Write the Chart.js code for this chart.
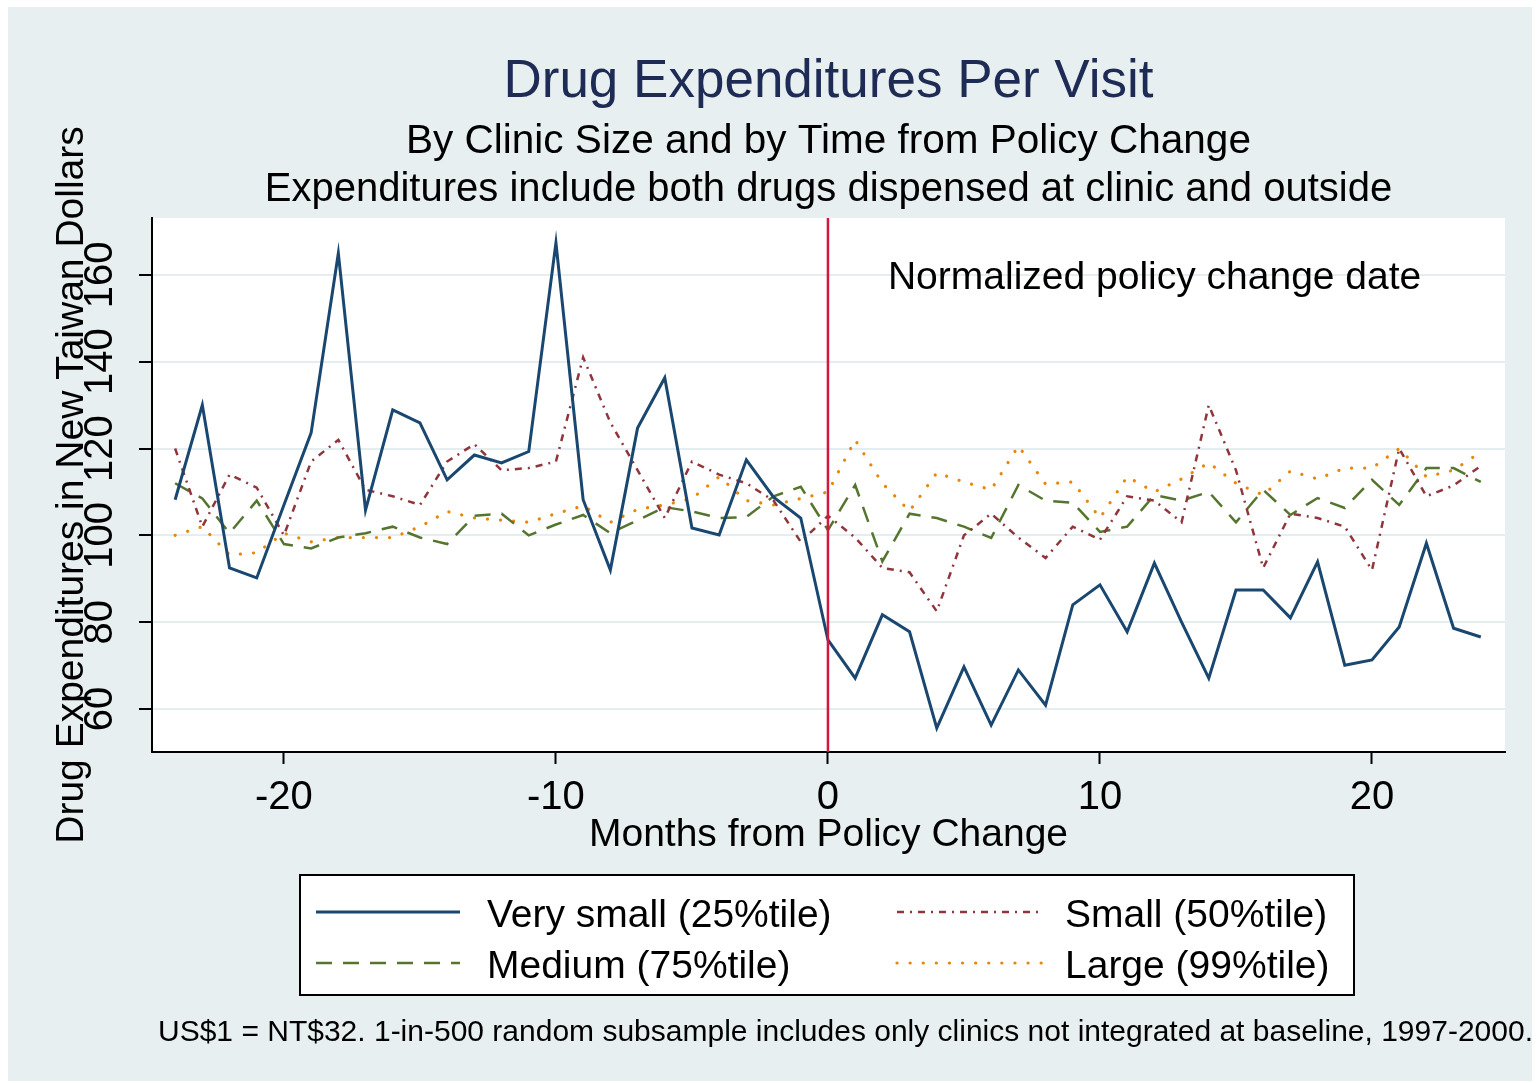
<!DOCTYPE html>
<html>
<head>
<meta charset="utf-8">
<script src="https://cdn.jsdelivr.net/npm/chart.js@4.4.1/dist/chart.umd.min.js"></script>
<style>
  body { margin: 0; background: #fff; }
  #wrap { width: 1537px; height: 1083px; }
</style>
</head>
<body>
<div id="wrap"><canvas id="myChart"></canvas></div>
<script>
// months relative to the policy change
var months = [-24,-23,-22,-21,-20,-19,-18,-17,-16,-15,-14,-13,-12,-11,-10,-9,-8,-7,-6,-5,-4,-3,-2,-1,
              0,1,2,3,4,5,6,7,8,9,10,11,12,13,14,15,16,17,18,19,20,21,22,23,24];

var verySmall = [108.2,130,92.5,90.2,107,123.6,165,105.8,128.9,125.9,112.8,118.5,116.7,119.3,167.4,108.2,92,124.7,136.3,101.7,100.1,117.4,108.8,104,
                 75.9,67.1,81.7,77.8,55.6,69.7,56.3,69,60.9,84,88.6,77.8,93.6,80,67.1,87.4,87.4,81,93.9,70.1,71.3,78.9,98.2,78.6,76.6];
var small = [120,102,114,111,100,117,122,110.5,109,107,117,121,115,115.5,117,141,126,115,104,117,114,112,108,98.5,
             104.5,99.5,92.5,91.5,82.5,100,105,99.5,94.8,102,99,109,108,103,130,115,92.5,105,104,102,92,120,109,111.5,116];
var medium = [112,108.5,100.5,108,98,97,99.5,100.5,102,99.5,98,104.5,105,100,102.5,104.7,100.5,103.5,106.5,105.5,104,104.2,109,111.2,
              101.2,111.6,94,105,104,102,99.4,111.6,108,107.5,100.8,102,109.3,108,110,103,110.5,104.7,108.6,106.3,112.8,107,115.5,115.5,112.3];
var large = [100,102,95.5,96,100.5,98.5,99.5,99.5,99.5,102,105.5,104,103.5,103,105,106.8,103,106,107,108.5,113.5,108,107,108.5,
             110,122,112,105.6,114.4,112.3,110.5,120.6,111.8,112.3,104,113.5,110,113,116.7,112,109.3,114.8,113,115.5,115.5,120,113.5,115,119.2];

var seriesNames = ["Very small (25%tile)", "Small (50%tile)", "Medium (75%tile)", "Large (99%tile)"];
var xTickValues = [-20, -10, 0, 10, 20];
var yTickValues = [60, 80, 100, 120, 140, 160];
var policyMonth = 0;

var FONT = "'Liberation Sans', Arial, sans-serif";
Chart.defaults.font.family = FONT;

function pts(vals) {
  return months.map(function (m, i) { return {x: m, y: vals[i]}; });
}

// backgrounds, titles, y tick labels, policy line, legend, note
var decor = {
  id: "decor",
  beforeDraw: function (chart) {
    var ctx = chart.ctx, a = chart.chartArea;
    ctx.save();
    ctx.fillStyle = "#ffffff";
    ctx.fillRect(0, 0, chart.width, chart.height);
    ctx.fillStyle = "#e7eff1";
    ctx.fillRect(8, 7, 1524, 1074);
    ctx.fillStyle = "#ffffff";
    ctx.fillRect(a.left, a.top, a.right - a.left, a.bottom - a.top);
    ctx.restore();
  },
  afterDatasetsDraw: function (chart) {
    var ctx = chart.ctx, a = chart.chartArea;
    var xs = chart.scales.x;
    var px = xs.getPixelForValue(policyMonth);
    ctx.save();
    ctx.strokeStyle = "#d3173f";
    ctx.lineWidth = 2.5;
    ctx.beginPath();
    ctx.moveTo(px, a.top);
    ctx.lineTo(px, a.bottom);
    ctx.stroke();
    ctx.fillStyle = "#000";
    ctx.font = "39px " + FONT;
    ctx.textAlign = "left";
    ctx.textBaseline = "alphabetic";
    ctx.fillText("Normalized policy change date", px + 60, a.top + 71);
    ctx.restore();
  },
  afterDraw: function (chart) {
    var ctx = chart.ctx, a = chart.chartArea;
    var cx = (a.left + a.right) / 2;
    var ys = chart.scales.y;
    ctx.save();
    // titles
    ctx.textAlign = "center";
    ctx.textBaseline = "alphabetic";
    ctx.fillStyle = "#1d2b55";
    ctx.font = "53px " + FONT;
    ctx.fillText("Drug Expenditures Per Visit", cx, 97);
    ctx.fillStyle = "#000";
    ctx.font = "40.5px " + FONT;
    ctx.fillText("By Clinic Size and by Time from Policy Change", cx, 153);
    ctx.font = "40px " + FONT;
    ctx.fillText("Expenditures include both drugs dispensed at clinic and outside", cx, 201);

    // vertical y tick labels
    ctx.font = "40px " + FONT;
    ctx.textBaseline = "middle";
    ys.ticks.forEach(function (t) {
      var py = ys.getPixelForValue(t.value);
      ctx.save();
      ctx.translate(101, py);
      ctx.rotate(-Math.PI / 2);
      ctx.fillText(String(t.value), 0, 0);
      ctx.restore();
    });

    // legend
    ctx.fillStyle = "#fff";
    ctx.fillRect(300, 875, 1054, 120);
    ctx.strokeStyle = "#000";
    ctx.lineWidth = 2;
    ctx.strokeRect(300, 875, 1054, 120);
    var slots = [
      {x0: 316, x1: 460, tx: 487, y: 912},
      {x0: 897, x1: 1043, tx: 1065, y: 912},
      {x0: 316, x1: 460, tx: 487, y: 963},
      {x0: 897, x1: 1043, tx: 1065, y: 963}
    ];
    chart.data.datasets.forEach(function (ds, i) {
      var s = slots[i];
      ctx.save();
      ctx.strokeStyle = ds.borderColor;
      ctx.lineWidth = ds.borderWidth;
      ctx.setLineDash(ds.borderDash || []);
      ctx.lineCap = ds.borderCapStyle || "butt";
      ctx.beginPath();
      ctx.moveTo(s.x0, s.y);
      ctx.lineTo(s.x1, s.y);
      ctx.stroke();
      ctx.restore();
      ctx.fillStyle = "#000";
      ctx.font = "39px " + FONT;
      ctx.textAlign = "left";
      ctx.textBaseline = "alphabetic";
      ctx.fillText(ds.label, s.tx, s.y + 15);
    });

    // note
    ctx.font = "30px " + FONT;
    ctx.fillStyle = "#000";
    ctx.textAlign = "left";
    ctx.fillText("US$1 = NT$32. 1-in-500 random subsample includes only clinics not integrated at baseline, 1997-2000.", 158, 1041);
    ctx.restore();
  }
};

new Chart("myChart", {
  type: "line",
  data: {
    datasets: [
      {label: seriesNames[0], data: pts(verySmall), borderColor: "#1a476f", borderWidth: 3},
      {label: seriesNames[1], data: pts(small), borderColor: "#90353b", borderWidth: 2.5, borderDash: [7, 6, 2, 6]},
      {label: seriesNames[2], data: pts(medium), borderColor: "#55752f", borderWidth: 2.5, borderDash: [16, 11]},
      {label: seriesNames[3], data: pts(large), borderColor: "#e8860c", borderWidth: 3.2, borderDash: [0.1, 13], borderCapStyle: "round"}
    ]
  },
  options: {
    responsive: true,
    maintainAspectRatio: false,
    animation: false,
    layout: {padding: {left: 0, top: 218, right: 32, bottom: 224}},
    elements: {point: {radius: 0}, line: {tension: 0}},
    plugins: {legend: {display: false}, tooltip: {enabled: false}},
    scales: {
      x: {
        type: "linear",
        min: -24.85,
        max: 24.89,
        afterBuildTicks: function (s) { s.ticks = xTickValues.map(function (v) { return {value: v}; }); },
        afterFit: function (s) { s.height = 107; },
        grid: {drawOnChartArea: false, drawTicks: true, tickLength: 12, tickColor: "#000", tickWidth: 2},
        border: {color: "#000", width: 2},
        ticks: {font: {size: 40}, color: "#000", padding: 10, maxRotation: 0},
        title: {display: true, text: "Months from Policy Change", font: {size: 39}, color: "#000", padding: 0}
      },
      y: {
        type: "linear",
        min: 50.1,
        max: 173.1,
        afterBuildTicks: function (s) { s.ticks = yTickValues.map(function (v) { return {value: v}; }); },
        afterFit: function (s) { s.width = 152; },
        grid: {color: "#e4edf0", lineWidth: 2, tickLength: 13, tickColor: "#000", tickWidth: 2},
        border: {color: "#000", width: 2},
        ticks: {display: false},
        title: {display: true, text: "Drug Expenditures in New Taiwan Dollars", font: {size: 39}, color: "#000", padding: {top: 49, bottom: 0}}
      }
    }
  },
  plugins: [decor]
});
</script>
</body>
</html>
